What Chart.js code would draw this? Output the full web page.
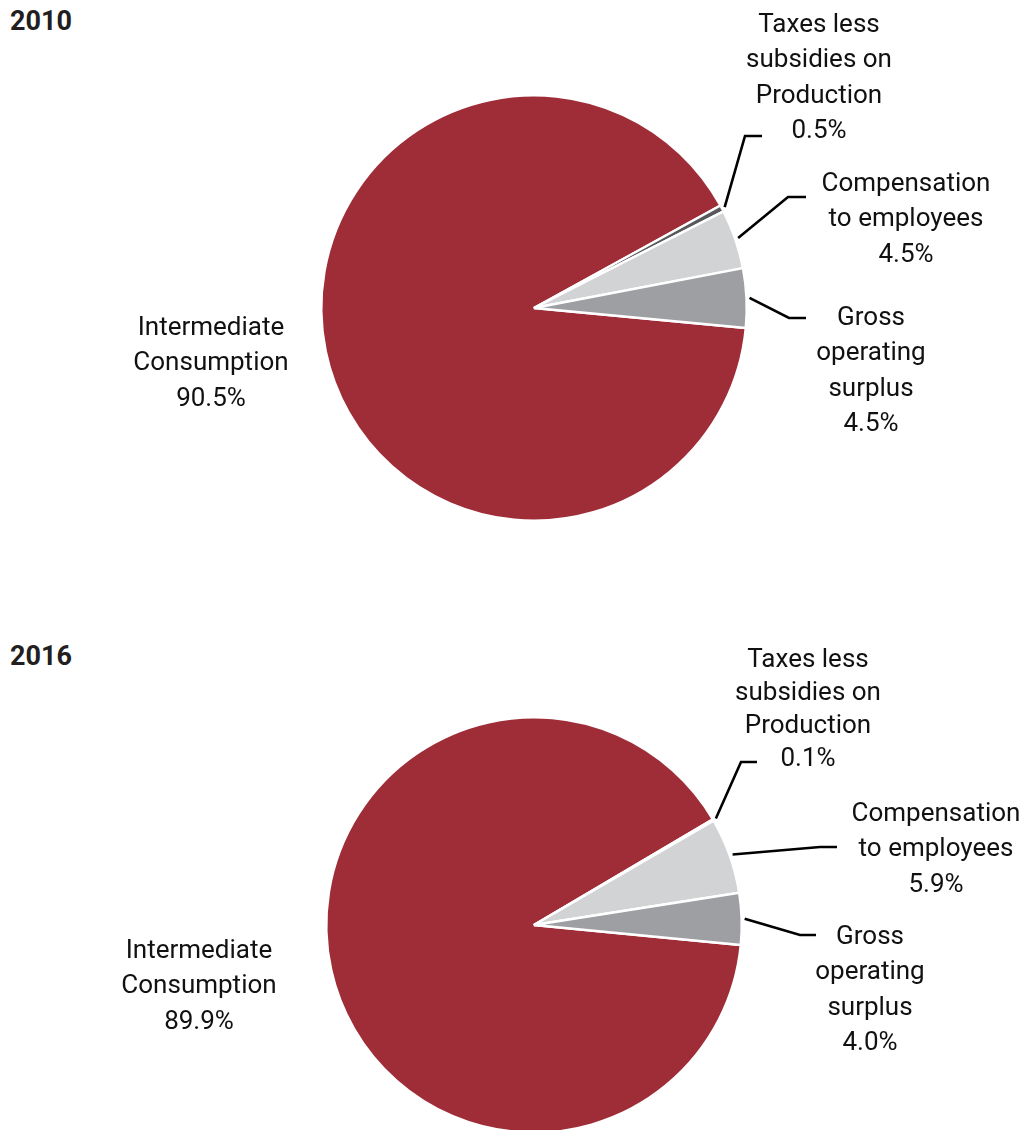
<!DOCTYPE html>
<html>
<head>
<meta charset="utf-8">
<script src="https://cdn.jsdelivr.net/npm/chart.js@4.4.1/dist/chart.umd.min.js"></script>
<style>
  html, body { margin: 0; padding: 0; background: #fff; }
  body { width: 1026px; height: 1130px; overflow: hidden; position: relative; font-family: Roboto, 'Noto Sans', sans-serif; }
  .year { position: absolute; left: 10px; font-weight: 700; font-size: 27px; color: #231f20; line-height: 1; }
  .wrap { position: absolute; left: 0; width: 1026px; }
  .wrap canvas { display: block; }
</style>
</head>
<body>
<div class="year" style="top:8px">2010</div>
<div class="year" style="top:643px">2016</div>
<div class="wrap" style="top:0;height:565px"><canvas id="pie-2010" width="1026" height="565"></canvas></div>
<div class="wrap" style="top:580px;height:620px"><canvas id="pie-2016" width="1026" height="620"></canvas></div>
<script>
// ===== Data =====
const categories = ['Intermediate Consumption', 'Taxes less subsidies on Production', 'Compensation to employees', 'Gross operating surplus']
const labelLines = [
  ['Intermediate', 'Consumption'],
  ['Taxes less', 'subsidies on', 'Production'],
  ['Compensation', 'to employees'],
  ['Gross', 'operating', 'surplus'],
]
const values2010 = [90.5, 0.5, 4.5, 4.5]
const values2016 = [89.9, 0.1, 5.9, 4.0]
const sliceColors = ['#9e2d38', '#58595b', '#d1d3d4', '#9d9fa2']

// label placement (relative to pie centre): text centre x, first line y, elbow, line end
const layout2010 = [
  { tx: -323, ty: 20 },
  { tx: 285, ty: -283, elbow: [211, -172], end: 228 },
  { tx: 372, ty: -124, elbow: [254, -111], end: 272 },
  { tx: 337, ty: 10, elbow: [255, 10], end: 272 },
]
const layout2016 = [
  { tx: -335, ty: 26 },
  { tx: 274, ty: -265, elbow: [207, -163], end: 223, lh: 33 },
  { tx: 402, ty: -111, elbow: [286, -78], end: 303 },
  { tx: 336, ty: 12, elbow: [266, 10], end: 282 },
]

const pieLabels = {
  id: 'pieLabels',
  afterDraw(chart, args, opts) {
    const ctx = chart.ctx
    const meta = chart.getDatasetMeta(0)
    const vals = chart.data.datasets[0].data
    ctx.save()
    meta.data.forEach((arc, i) => {
      const L = opts.layout[i]
      const cx = arc.x, cy = arc.y
      if (L.elbow) {
        const mid = (arc.startAngle + arc.endAngle) / 2
        const r = arc.outerRadius + 3
        ctx.beginPath()
        ctx.moveTo(cx + Math.cos(mid) * r, cy + Math.sin(mid) * r)
        ctx.lineTo(cx + L.elbow[0], cy + L.elbow[1])
        ctx.lineTo(cx + L.end, cy + L.elbow[1])
        ctx.strokeStyle = '#000'
        ctx.lineWidth = 2.6
        ctx.lineJoin = 'miter'
        ctx.stroke()
      }
      const lines = [...labelLines[i], vals[i].toFixed(1) + '%']
      const lh = L.lh || 35.5
      ctx.fillStyle = '#111'
      ctx.font = '26px Roboto'
      ctx.textAlign = 'center'
      ctx.textBaseline = 'middle'
      lines.forEach((t, k) => ctx.fillText(t, cx + L.tx, cy + L.ty + k * lh))
    })
    ctx.restore()
  }
}

function makePie(id, values, rotation, padding, layout) {
  return new Chart(document.getElementById(id), {
    type: 'pie',
    data: {
      labels: categories,
      datasets: [{
        data: values,
        backgroundColor: sliceColors,
        borderColor: '#fff',
        borderWidth: 2.5,
        hoverOffset: 0,
      }]
    },
    options: {
      responsive: false,
      animation: false,
      rotation: rotation,
      layout: { padding: padding },
      plugins: { legend: { display: false }, tooltip: { enabled: false }, pieLabels: { layout: layout } },
    },
    plugins: [pieLabels]
  })
}

makePie('pie-2010', values2010, 95.4, { left: 320, right: 278, top: 94, bottom: 43 }, layout2010)
makePie('pie-2016', values2016, 95.5, { left: 325, right: 283, top: 136, bottom: 66 }, layout2016)
</script>
</body>
</html>
